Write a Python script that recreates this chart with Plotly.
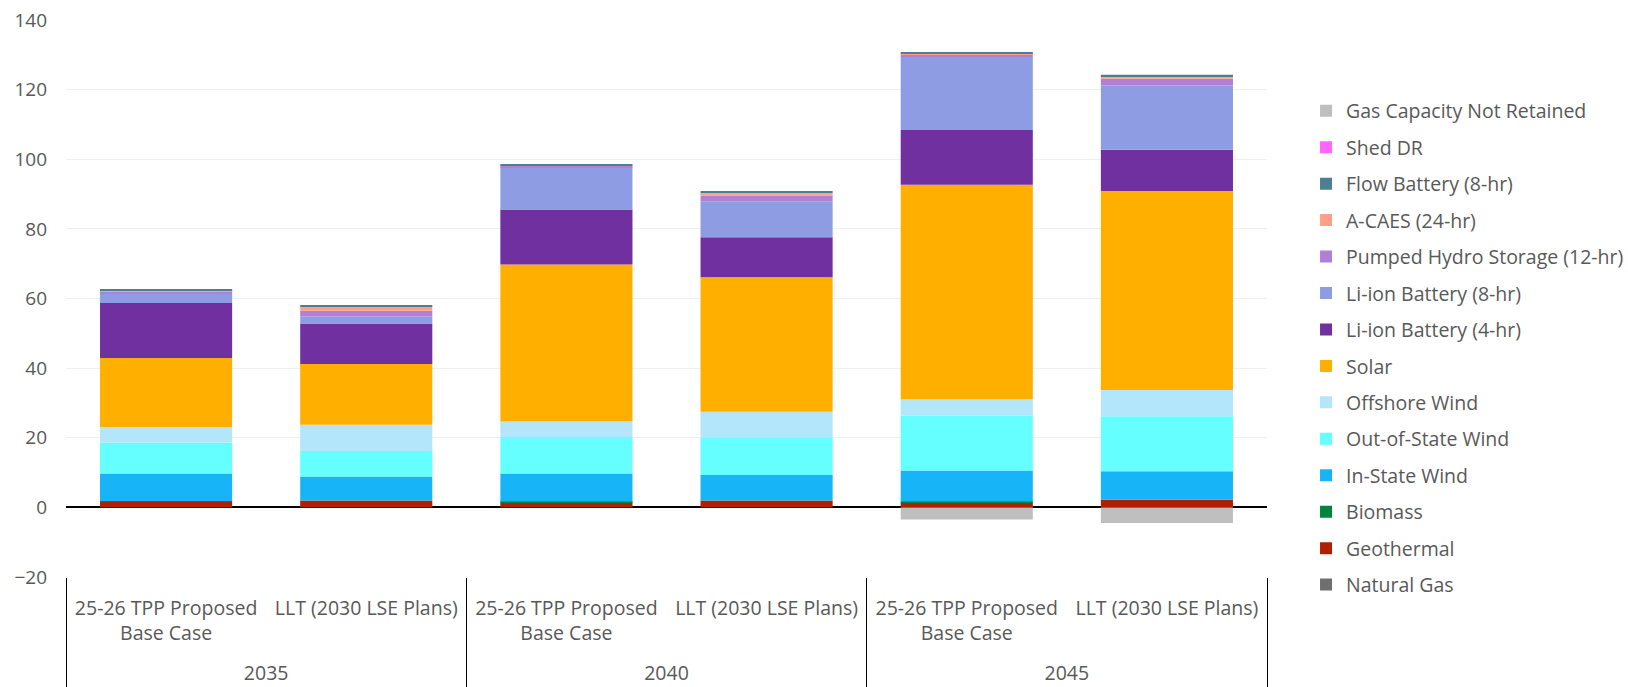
import plotly.graph_objects as go

years = ["2035", "2035", "2040", "2040", "2045", "2045"]
scenarios = ["25-26 TPP Proposed<br>Base Case<br><span style='font-size:31px'>\u00a0</span>",
             "LLT (2030 LSE Plans)"] * 3

natural_gas = [0, 0, 0, 0, 0, 0]
geothermal = [1.6, 2.0, 1.5, 2.0, 1.5, 2.2]
biomass = [0.2, 0, 0.2, 0, 0.2, 0]
in_state_wind = [7.9, 6.9, 8.0, 7.3, 8.9, 8.2]
out_of_state_wind = [8.9, 7.3, 10.5, 10.6, 15.8, 15.8]
offshore_wind = [4.5, 7.5, 4.5, 7.6, 4.6, 7.5]
solar = [19.8, 17.5, 45.1, 38.6, 61.7, 57.2]
li_ion_4hr = [15.8, 11.6, 15.8, 11.5, 15.7, 11.8]
li_ion_8hr = [2.8, 2.0, 12.0, 10.3, 21.1, 18.5]
pumped_hydro = [0.4, 1.7, 0.5, 1.6, 0.5, 1.9]
a_caes = [0.4, 1.2, 0.2, 0.9, 0.3, 0.8]
flow_battery = [0.3, 0.4, 0.3, 0.4, 0.3, 0.4]
shed_dr = [0, 0, 0, 0, 0, 0]
gas_not_retained = [0, 0, 0, 0, -3.5, -4.5]

series = [
    ("Natural Gas", natural_gas, "#6F6F6F"),
    ("Geothermal", geothermal, "#B01F00"),
    ("Biomass", biomass, "#00843D"),
    ("In-State Wind", in_state_wind, "#17B4F8"),
    ("Out-of-State Wind", out_of_state_wind, "#66FFFF"),
    ("Offshore Wind", offshore_wind, "#B3E5FB"),
    ("Solar", solar, "#FFAF00"),
    ("Li-ion Battery (4-hr)", li_ion_4hr, "#7030A0"),
    ("Li-ion Battery (8-hr)", li_ion_8hr, "#8E9DE3"),
    ("Pumped Hydro Storage (12-hr)", pumped_hydro, "#B180D6"),
    ("A-CAES (24-hr)", a_caes, "#FF9F87"),
    ("Flow Battery (8-hr)", flow_battery, "#4A7F94"),
    ("Shed DR", shed_dr, "#FF66FF"),
    ("Gas Capacity Not Retained", gas_not_retained, "#BFBFBF"),
]

FONT = "Open Sans"
GREY = "#595959"

fig = go.Figure()
n = len(series)
for i, (name, vals, color) in enumerate(series):
    fig.add_trace(go.Bar(
        x=[years, scenarios], y=vals, name=name,
        marker=dict(color=color, line=dict(width=0)),
        legendgroup=name, legendrank=100 + n - i,
    ))

fig.update_layout(
    width=1628, height=687,
    barmode="relative", bargap=0.34,
    paper_bgcolor="white", plot_bgcolor="white",
    margin=dict(l=66, r=361, t=20, b=110, autoexpand=False),
    font=dict(family=FONT, size=19, color=GREY),
    legend=dict(
        traceorder="grouped", tracegroupgap=8.1,
        x=1.0325, xanchor="left", y=0.8715, yanchor="top",
        font=dict(family=FONT, size=19.5, color=GREY),
        bgcolor="rgba(0,0,0,0)",
    ),
    showlegend=True,
)
fig.update_yaxes(
    range=[-20, 140], dtick=20, showgrid=True, gridcolor="#EFEFEF", gridwidth=1,
    zeroline=True, zerolinecolor="#000000", zerolinewidth=1.5,
    showline=False, ticks="", ticklabelstandoff=18, automargin=False,
    tickfont=dict(family=FONT, size=19, color=GREY),
)
fig.update_xaxes(
    type="multicategory", showgrid=False, showline=False, ticks="",
    showdividers=True, dividercolor="#000000", dividerwidth=1,
    ticklabelstandoff=17, automargin=False,
    tickfont=dict(family=FONT, size=19.5, color=GREY),
)

fig.write_html("out.html")
